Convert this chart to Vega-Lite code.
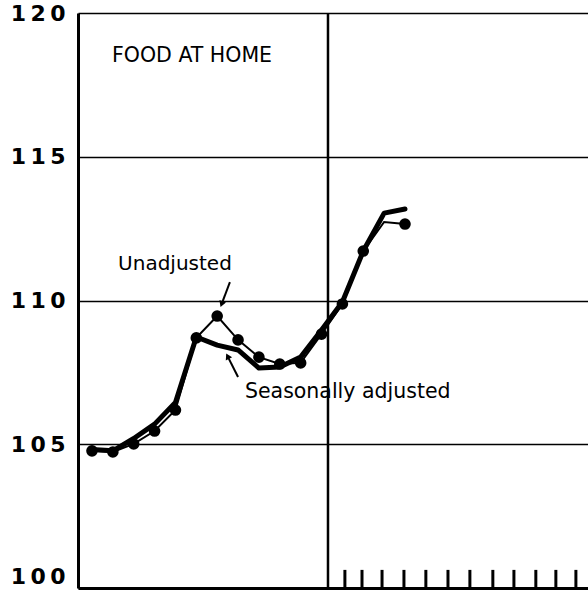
{
  "$schema": "https://vega.github.io/schema/vega-lite/v6.json",
  "width": 510,
  "height": 575,
  "autosize": {"type": "none"},
  "padding": {"left": 78, "top": 13, "right": 0, "bottom": 6},
  "background": "white",
  "config": {"view": {"stroke": null}, "font": "DejaVu Sans"},
  "datasets": {
    "series": [
      {"m": 0, "series": "Unadjusted", "value": 104.77},
      {"m": 1, "series": "Unadjusted", "value": 104.73},
      {"m": 2, "series": "Unadjusted", "value": 105.01},
      {"m": 3, "series": "Unadjusted", "value": 105.46},
      {"m": 4, "series": "Unadjusted", "value": 106.19},
      {"m": 5, "series": "Unadjusted", "value": 108.7},
      {"m": 6, "series": "Unadjusted", "value": 109.46},
      {"m": 7, "series": "Unadjusted", "value": 108.63},
      {"m": 8, "series": "Unadjusted", "value": 108.03},
      {"m": 9, "series": "Unadjusted", "value": 107.79},
      {"m": 10, "series": "Unadjusted", "value": 107.83},
      {"m": 11, "series": "Unadjusted", "value": 108.83},
      {"m": 12, "series": "Unadjusted", "value": 109.88},
      {"m": 13, "series": "Unadjusted", "value": 111.72},
      {"m": 14, "series": "Unadjusted", "value": 112.73},
      {"m": 15, "series": "Unadjusted", "value": 112.66},
      {"m": 0, "series": "Seasonally adjusted", "value": 104.82},
      {"m": 1, "series": "Seasonally adjusted", "value": 104.77},
      {"m": 2, "series": "Seasonally adjusted", "value": 105.2},
      {"m": 3, "series": "Seasonally adjusted", "value": 105.7},
      {"m": 4, "series": "Seasonally adjusted", "value": 106.45},
      {"m": 5, "series": "Seasonally adjusted", "value": 108.73},
      {"m": 6, "series": "Seasonally adjusted", "value": 108.45},
      {"m": 7, "series": "Seasonally adjusted", "value": 108.28},
      {"m": 8, "series": "Seasonally adjusted", "value": 107.65},
      {"m": 9, "series": "Seasonally adjusted", "value": 107.69},
      {"m": 10, "series": "Seasonally adjusted", "value": 108.03},
      {"m": 11, "series": "Seasonally adjusted", "value": 108.97},
      {"m": 12, "series": "Seasonally adjusted", "value": 109.95},
      {"m": 13, "series": "Seasonally adjusted", "value": 111.72},
      {"m": 14, "series": "Seasonally adjusted", "value": 113.04},
      {"m": 15, "series": "Seasonally adjusted", "value": 113.18}
    ],
    "ticks": [
      {"m": 12.12}, {"m": 12.94}, {"m": 13.9}, {"m": 14.95}, {"m": 16.0}, {"m": 17.06},
      {"m": 18.11}, {"m": 19.21}, {"m": 20.22}, {"m": 21.27}, {"m": 22.23}, {"m": 23.19}
    ],
    "labels": [
      {"m": 0.96, "value": 118.3, "text": "FOOD AT HOME", "size": 20.5},
      {"m": 1.25, "value": 111.06, "text": "Unadjusted", "size": 20},
      {"m": 7.33, "value": 106.61, "text": "Seasonally adjusted", "size": 20.5}
    ],
    "arrows": [
      {"x1": 6.61, "y1": 110.64, "x2": 6.23, "y2": 109.91, "angle": 201},
      {"x1": 7.0, "y1": 107.34, "x2": 6.52, "y2": 108.03, "angle": 333}
    ]
  },
  "layer": [
    {
      "data": {"values": [{"m": 11.31}]},
      "mark": {"type": "rule", "color": "black", "strokeWidth": 2.5},
      "encoding": {
        "x": {"field": "m", "type": "quantitative", "scale": {"domain": [-0.67, 23.77], "nice": false, "zero": false},
          "axis": {"labels": false, "ticks": false, "grid": false, "title": null, "domain": true, "domainColor": "black", "domainWidth": 3}}
      }
    },
    {
      "data": {"name": "ticks"},
      "mark": {"type": "rule", "color": "black", "strokeWidth": 3},
      "encoding": {
        "x": {"field": "m", "type": "quantitative"},
        "y": {"datum": 100, "type": "quantitative"},
        "y2": {"datum": 100.63}
      }
    },
    {
      "data": {"name": "series"},
      "transform": [{"filter": "datum.series == 'Seasonally adjusted'"}],
      "mark": {"type": "line", "color": "black", "strokeWidth": 5, "strokeJoin": "round", "strokeCap": "round"},
      "encoding": {
        "x": {"field": "m", "type": "quantitative"},
        "y": {"field": "value", "type": "quantitative",
          "scale": {"domain": [100, 120], "nice": false, "zero": false},
          "axis": {
            "title": null, "ticks": false, "values": [100, 105, 110, 115, 120],
            "grid": true, "gridColor": "black", "gridWidth": 1.5, "gridOpacity": 1,
            "domain": true, "domainColor": "black", "domainWidth": 3,
            "labelFont": "DejaVu Sans", "labelFontSize": 22, "labelFontWeight": "bold", "labelColor": "black", "labelPadding": 13,
            "labelBaseline": {"condition": {"test": "datum.value == 100", "value": "bottom"}, "value": "middle"},
            "labelExpr": "join(split(datum.label, ''), '\u2009')"
          }
        }
      }
    },
    {
      "data": {"name": "series"},
      "transform": [{"filter": "datum.series == 'Unadjusted'"}],
      "mark": {"type": "line", "color": "black", "strokeWidth": 2},
      "encoding": {
        "x": {"field": "m", "type": "quantitative"},
        "y": {"field": "value", "type": "quantitative"}
      }
    },
    {
      "data": {"name": "series"},
      "transform": [{"filter": "datum.series == 'Unadjusted' && datum.m != 14"}],
      "mark": {"type": "point", "filled": true, "color": "black", "opacity": 1, "size": 135},
      "encoding": {
        "x": {"field": "m", "type": "quantitative"},
        "y": {"field": "value", "type": "quantitative"}
      }
    },
    {
      "data": {"name": "labels"},
      "mark": {"type": "text", "align": "left", "baseline": "alphabetic", "color": "black", "font": "DejaVu Sans"},
      "encoding": {
        "x": {"field": "m", "type": "quantitative"},
        "y": {"field": "value", "type": "quantitative"},
        "text": {"field": "text"},
        "size": {"field": "size", "type": "quantitative", "scale": null}
      }
    },
    {
      "data": {"name": "arrows"},
      "mark": {"type": "rule", "color": "black", "strokeWidth": 2},
      "encoding": {
        "x": {"field": "x1", "type": "quantitative"},
        "y": {"field": "y1", "type": "quantitative"},
        "x2": {"field": "x2"},
        "y2": {"field": "y2"}
      }
    },
    {
      "data": {"name": "arrows"},
      "mark": {"type": "point", "shape": "triangle", "filled": true, "color": "black", "opacity": 1, "size": 50},
      "encoding": {
        "x": {"field": "x2", "type": "quantitative"},
        "y": {"field": "y2", "type": "quantitative"},
        "angle": {"field": "angle", "type": "quantitative", "scale": null}
      }
    }
  ]
}
